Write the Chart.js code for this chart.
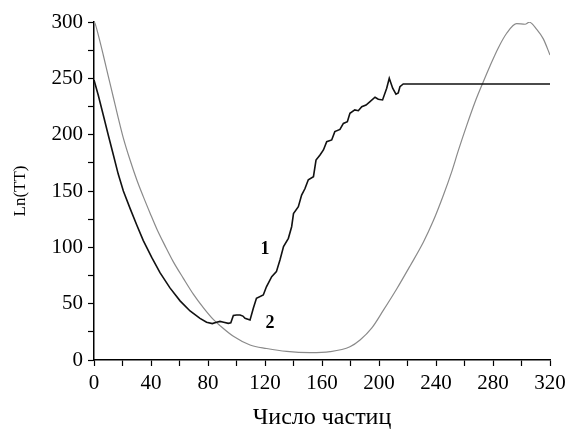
<!DOCTYPE html>
<html>
<head>
<meta charset="utf-8">
<script src="https://cdn.jsdelivr.net/npm/chart.js@4.4.1/dist/chart.umd.min.js"></script>
<style>
    html, body { margin: 0; padding: 0; background: #fff; }
    #wrap { width: 575px; height: 432px; }
</style>
</head>
<body>
<div id="wrap"><canvas id="lnChart"></canvas></div>
<script>
// curve 1 (black)
const x1 = [0, 3, 6.5, 10, 13.6, 17, 20.6, 25.3, 30, 34.6, 40.5, 46.3, 53.3, 60.4, 67.4, 74.4, 79, 83, 86, 88.4, 91, 94.2, 96, 97.8, 100, 102.5, 104.5, 106, 109.5, 111.8, 114, 118.8, 121, 124.7, 128, 130.5, 133, 136.4, 138.7, 140, 143.4, 145.7, 148, 150.4, 154, 155.8, 158.6, 161, 163.3, 166.8, 169, 172.6, 175, 177.8, 179.6, 183, 185.5, 187.9, 190.9, 193.7, 197.2, 199.5, 202.5, 205.4, 207.2, 209.6, 211.9, 213.5, 214.7, 217, 320];
const y1 = [248.5, 235, 217.5, 199.7, 182, 165, 150, 134.6, 119.8, 106, 91, 77.5, 64, 52.5, 43.5, 37, 33.5, 32.3, 33.5, 34.3, 33.5, 32.5, 33, 39.5, 40, 40, 39, 37, 35.5, 46, 54.7, 57.7, 65, 74, 78.4, 88.8, 100.6, 108, 118.3, 130, 136, 146.4, 152, 160, 162.7, 177.5, 182, 186.4, 193.8, 195.3, 202.7, 204.7, 210, 211.5, 219, 222, 221.3, 224.8, 226.3, 229.3, 233.2, 231.4, 230.8, 241.2, 250, 241.2, 236, 237, 242.6, 245, 245];

// curve 2 (grey)
const x2 = [0, 0.7, 3, 6.5, 10, 13.6, 17, 20.6, 25.3, 30, 34.6, 39.3, 44, 49.8, 55.6, 62.7, 69.7, 76.7, 83.7, 88.4, 97.8, 109.5, 121.2, 135.2, 151.6, 165.6, 179.6, 186.7, 195, 203, 212.4, 221.8, 231.1, 238.1, 245.1, 251, 255.7, 261.5, 267.4, 273.2, 277.9, 283.7, 289.6, 296.6, 302.5, 305.5, 310.7, 315.3, 320];
const y2 = [300, 298.8, 288.5, 270.7, 252, 233, 215, 197, 177.5, 160, 145, 130.5, 116.5, 101.5, 87.3, 72.5, 58.5, 46.5, 36, 30.5, 21, 13.3, 10.2, 7.6, 6.5, 7.4, 11.8, 17.8, 28.5, 44, 63, 83.5, 104.5, 123.5, 146, 167, 186, 208, 229, 247, 261, 277, 290, 298.5, 298, 299.8, 293.5, 285, 270.7];

const xTicks = [0, 40, 80, 120, 160, 200, 240, 280, 320];
const yTicks = [0, 50, 100, 150, 200, 250, 300];

// curve numbers, placed in data units
const curveLabels = [
    { text: "1", x: 120, y: 98.5 },
    { text: "2", x: 123.5, y: 32.5 },
];

const serif = "'Liberation Serif', 'Times New Roman', serif";

const curveLabelPlugin = {
    id: "curveLabels",
    afterDatasetsDraw(chart) {
        const { ctx, scales } = chart;
        ctx.save();
        ctx.fillStyle = "#000";
        ctx.font = "bold 18px " + serif;
        ctx.textAlign = "center";
        ctx.textBaseline = "middle";
        curveLabels.forEach((l) => {
            ctx.fillText(l.text, scales.x.getPixelForValue(l.x), scales.y.getPixelForValue(l.y));
        });
        ctx.restore();
    },
};

new Chart(document.getElementById("lnChart").getContext("2d"), {
    type: "line",
    data: {
        datasets: [
            {
                label: "1",
                data: x1.map((x, i) => ({ x: x, y: y1[i] })),
                borderColor: "#111",
                borderWidth: 1.6,
                pointRadius: 0,
                tension: 0,
            },
            {
                label: "2",
                data: x2.map((x, i) => ({ x: x, y: y2[i] })),
                borderColor: "#8a8a8a",
                borderWidth: 1.2,
                pointRadius: 0,
                cubicInterpolationMode: "monotone",
            },
        ],
    },
    options: {
        responsive: true,
        maintainAspectRatio: false,
        animation: false,
        layout: { padding: { left: 0, right: 25, top: 22, bottom: 0 } },
        plugins: { legend: { display: false }, tooltip: { enabled: false } },
        scales: {
            x: {
                type: "linear",
                min: 0,
                max: 320,
                afterFit: (s) => { s.height = 72; },
                afterBuildTicks: (s) => {
                    s.ticks = [];
                    for (let v = 0; v <= 320; v += 20) s.ticks.push({ value: v });
                },
                border: { display: true, color: "#000", width: 1.5 },
                grid: { drawOnChartArea: false, tickLength: 6, color: "#000", tickWidth: 1.2 },
                ticks: {
                    color: "#000",
                    padding: 5,
                    maxRotation: 0,
                    autoSkip: false,
                    font: { family: serif, size: 21 },
                    callback: (v) => (xTicks.includes(v) ? String(v) : ""),
                },
                title: {
                    display: true,
                    text: "Число частиц",
                    color: "#000",
                    font: { family: serif, size: 24, lineHeight: 1 },
                    padding: { top: 0, bottom: 2 },
                },
            },
            y: {
                min: 0,
                max: 300,
                afterFit: (s) => { s.width = 94; },
                afterBuildTicks: (s) => {
                    s.ticks = [];
                    for (let v = 0; v <= 300; v += 25) s.ticks.push({ value: v });
                },
                border: { display: true, color: "#000", width: 1.5 },
                grid: { drawOnChartArea: false, tickLength: 6, color: "#000", tickWidth: 1.2 },
                ticks: {
                    color: "#000",
                    padding: 5,
                    autoSkip: false,
                    font: { family: serif, size: 21 },
                    callback: (v) => (yTicks.includes(v) ? String(v) : ""),
                },
                title: {
                    display: true,
                    text: "Ln(TT)",
                    color: "#000",
                    font: { family: serif, size: 17 },
                    padding: { top: 10, bottom: 0 },
                },
            },
        },
    },
    plugins: [curveLabelPlugin],
});
</script>
</body>
</html>
